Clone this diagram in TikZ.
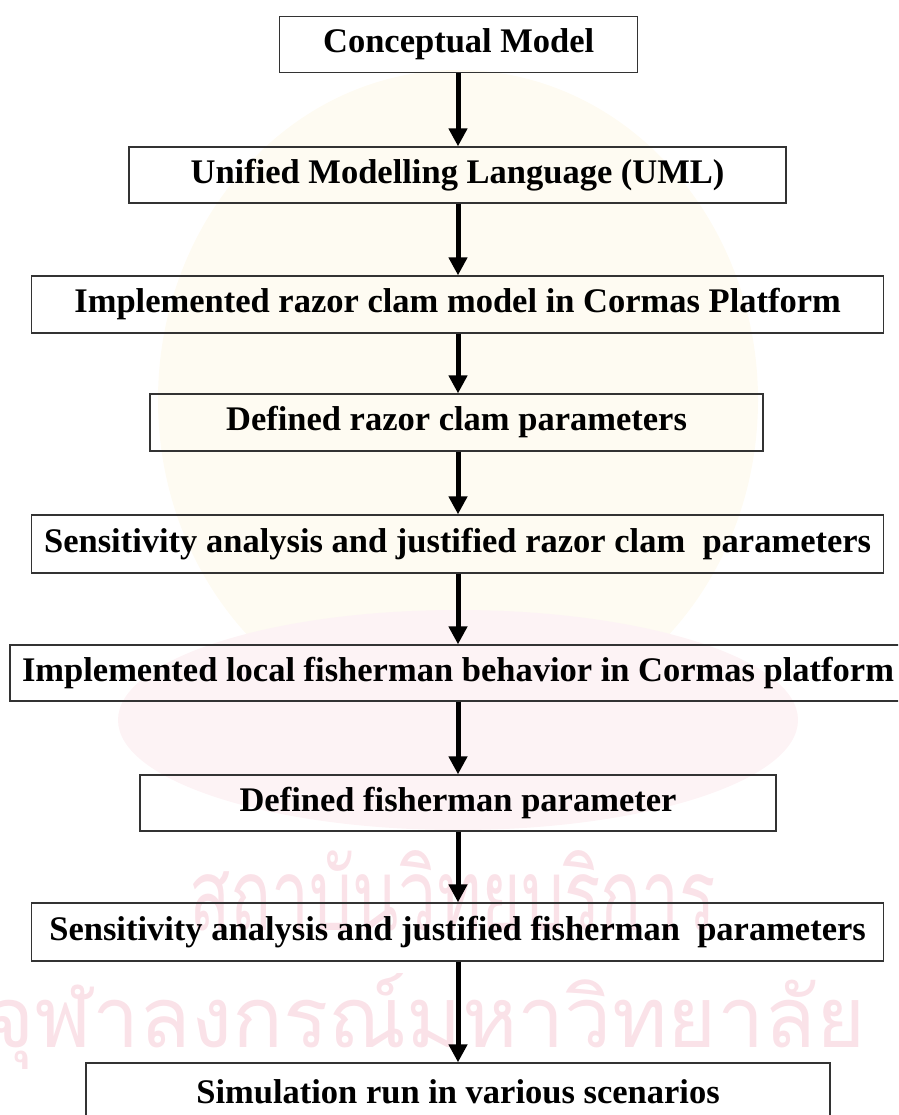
\documentclass[tikz,border=0pt]{standalone}
\usepackage{fontspec}
\setmainfont{Liberation Serif}
\newfontfamily\thaifont[Script=Thai]{Loma}
\usetikzlibrary{arrows.meta}
\definecolor{wmpink}{RGB}{250,226,232}
\definecolor{wmyel}{RGB}{254,251,242}
\definecolor{wmblush}{RGB}{253,243,245}
\tikzset{
  flowbox/.style={draw=black!80, line width=1.3pt, inner sep=0pt, align=center,
    font=\bfseries\fontsize{34.5}{40}\selectfont},
  flowarrow/.style={line width=5pt, -{Triangle[length=18pt,width=18pt]}},
  wmtext/.style={text=wmpink, inner sep=0pt, anchor=base west, font=\thaifont\fontsize{100}{110}\selectfont}
}
\begin{document}
\begin{tikzpicture}[x=1pt,y=-1pt]
\useasboundingbox (0,0) rectangle (898,1115);
\clip (0,0) rectangle (898,1115);
% watermark
\fill[wmyel] (458,400) ellipse (300 and 330);
\fill[wmblush] (458,720) ellipse (340 and 110);
\node[wmtext] (wm1) at (189,930) {\resizebox{527pt}{80pt}{สถาบันวิทยบริการ}};
\node[wmtext] (wm2) at (-15,1047) {\resizebox{880pt}{74pt}{จุฬาลงกรณ์มหาวิทยาลัย}};
% boxes
\node[flowbox, minimum width=358pt, minimum height=56pt] (b1) at (458.7,44.6) {Conceptual Model};
\node[flowbox, minimum width=657pt, minimum height=56pt] (b2) at (457.5,175) {Unified Modelling Language (UML)};
\node[flowbox, minimum width=852pt, minimum height=57pt] (b3) at (457.6,304.5) {Implemented razor clam model in Cormas Platform};
\node[flowbox, minimum width=613pt, minimum height=57pt] (b4) at (456.5,422.5) {Defined razor clam parameters};
\node[flowbox, minimum width=852pt, minimum height=58pt] (b5) at (457.6,544) {Sensitivity analysis and justified razor clam\ \ parameters};
\node[flowbox, minimum width=896pt, minimum height=56pt] (b6) at (458,673) {Implemented local fisherman behavior in Cormas platform};
\node[flowbox, minimum width=636pt, minimum height=56pt] (b7) at (458,803) {Defined fisherman parameter};
\node[flowbox, minimum width=852pt, minimum height=58pt] (b8) at (457.6,932) {Sensitivity analysis and justified fisherman\ \ parameters};
\node[flowbox, minimum width=744pt, minimum height=57pt] (b9) at (458,1091.5) {Simulation run in various scenarios};
% arrows
\coordinate (ax) at (458,0);
\draw[flowarrow] (b1.south -| ax) -- (b2.north -| ax);
\draw[flowarrow] (b2.south -| ax) -- (b3.north -| ax);
\draw[flowarrow] (b3.south -| ax) -- (b4.north -| ax);
\draw[flowarrow] (b4.south -| ax) -- (b5.north -| ax);
\draw[flowarrow] (b5.south -| ax) -- (b6.north -| ax);
\draw[flowarrow] (b6.south -| ax) -- (b7.north -| ax);
\draw[flowarrow] (b7.south -| ax) -- (b8.north -| ax);
\draw[flowarrow] (b8.south -| ax) -- (b9.north -| ax);
\end{tikzpicture}
\end{document}
